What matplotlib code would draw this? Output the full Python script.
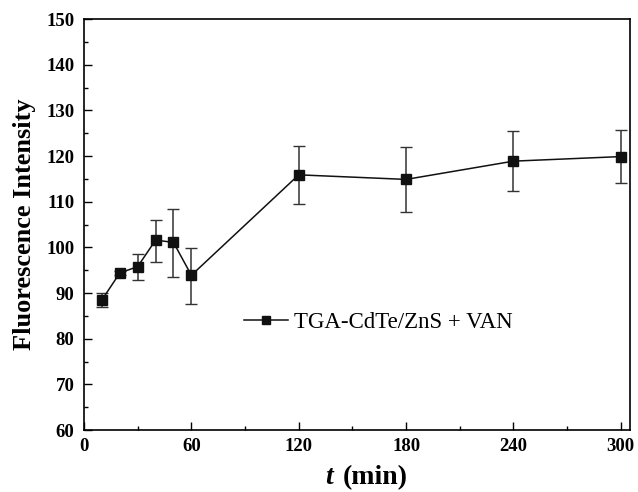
import numpy as np
import matplotlib.pyplot as plt
from matplotlib.ticker import MultipleLocator

# --- data ---
time_min = [10, 20, 30, 40, 50, 60, 120, 180, 240, 300]
intensity = [88.5, 94.4, 95.8, 101.6, 101.1, 93.9, 115.9, 114.9, 118.9, 119.9]
err_low = [1.6, 0.4, 2.9, 4.8, 7.5, 6.2, 6.3, 7.1, 6.6, 5.7]
err_high = [1.5, 0.4, 2.7, 4.5, 7.3, 5.9, 6.4, 7.1, 6.5, 5.8]
series_label = "TGA-CdTe/ZnS + VAN"

plt.rcParams['font.family'] = ['Liberation Serif', 'DejaVu Serif']

fig = plt.figure(figsize=(6.38, 4.92), dpi=100)
ax = fig.add_axes([0.1317, 0.126, 0.8553, 0.835])

# line + markers (legend entry) and error bars drawn separately
ax.errorbar(time_min, intensity, yerr=[err_low, err_high], fmt='none',
            ecolor='#333333', elinewidth=1.1, capsize=4, capthick=1.0)
ax.plot(time_min, intensity, '-s', color='#111111', lw=1.1,
        markersize=7.5, label=series_label)

ax.set_xlim(0, 305)
ax.set_ylim(60, 150)
ax.xaxis.set_major_locator(MultipleLocator(60))
ax.xaxis.set_minor_locator(MultipleLocator(30))
ax.yaxis.set_major_locator(MultipleLocator(10))
ax.yaxis.set_minor_locator(MultipleLocator(5))
ax.tick_params(which='both', direction='in', top=False, right=False)
ax.tick_params(which='major', length=6, width=1.0, labelsize=13.5)
ax.tick_params(axis='x', which='major', pad=6)
ax.tick_params(axis='y', which='major', pad=7)
ax.tick_params(which='minor', length=3, width=1.0)
for lab in ax.get_xticklabels() + ax.get_yticklabels():
    lab.set_fontweight('bold')
for sp in ax.spines.values():
    sp.set_linewidth(1.2)

# x label: italic t + bold (min)
fig.text(333 / 638, 0.017, "t", fontsize=20, fontweight='bold', style='italic',
         ha='right', va='baseline')
fig.text(343 / 638, 0.017, "(min)", fontsize=20, fontweight='bold',
         ha='left', va='baseline')

ax.set_ylabel("Fluorescence Intensity", fontsize=19, fontweight='bold')
ax.yaxis.set_label_coords(-0.088, 0.5)

ax.legend(loc='center left', bbox_to_anchor=(244 / 638, 1 - 322 / 492),
          bbox_transform=fig.transFigure, frameon=False, borderpad=0,
          borderaxespad=0, fontsize=16.5, handlelength=1.9,
          handletextpad=0.3, markerscale=0.75)

fig.savefig("out.png", dpi=100)
